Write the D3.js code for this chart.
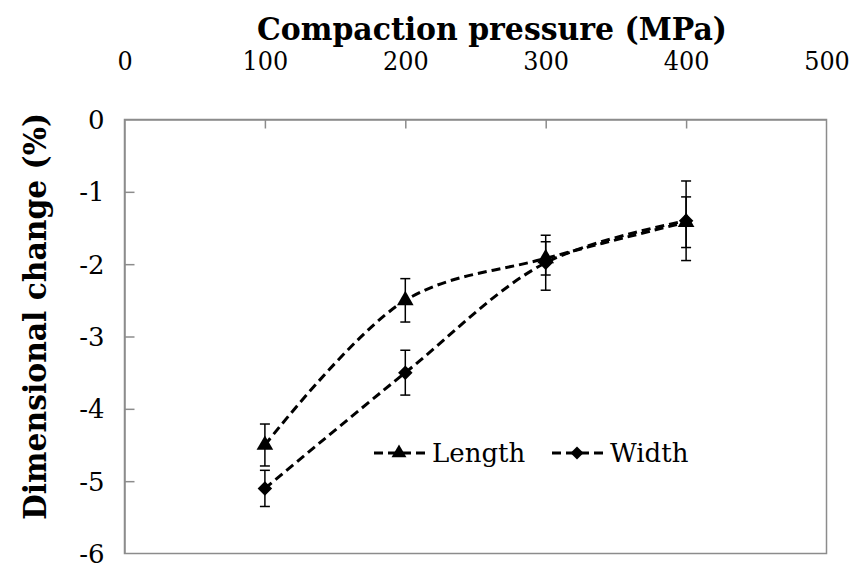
<!DOCTYPE html>
<html><head><meta charset="utf-8">
<script src="https://cdn.jsdelivr.net/npm/d3@7"></script>
<style>body{margin:0;background:#fff}svg{display:block}</style>
</head><body>
<script>
const pressures = [100, 200, 300, 400];
const lengthVals = [-4.5, -2.5, -1.92, -1.42];
const lengthErr = [0.29, 0.3, 0.23, 0.35];
const widthVals = [-5.1, -3.5, -1.98, -1.4];
const widthErr = [0.25, 0.31, 0.38, 0.55];
const xTicks = [0, 100, 200, 300, 400, 500];
const yTicks = [0, -1, -2, -3, -4, -5, -6];
const seriesNames = ["Length", "Width"];

const W = 857, H = 569;
const m = {left: 124.5, right: 857 - 826.5, top: 119.5, bottom: 569 - 553.5};
const svg = d3.select("body").append("svg").attr("width", W).attr("height", H);
const x = d3.scaleLinear().domain([0, 500]).range([m.left, W - m.right]);
const y = d3.scaleLinear().domain([0, -6]).range([m.top, H - m.bottom]);
const font = "'DejaVu Serif', 'Liberation Serif', serif";

// frame
svg.append("rect").attr("x", x(0)).attr("y", y(0)).attr("width", x(500) - x(0)).attr("height", y(-6) - y(0))
  .attr("fill", "none").attr("stroke", "#8c8c8c").attr("stroke-width", 1.5);

// top axis
const xAxis = d3.axisTop(x).tickValues(xTicks).tickSizeInner(-9).tickSizeOuter(0).tickPadding(9);
const gx = svg.append("g").attr("transform", `translate(0,${y(0)})`).call(xAxis);
gx.select(".domain").attr("stroke", "#8c8c8c").attr("stroke-width", 1.5);
gx.selectAll(".tick line").attr("stroke", "#8c8c8c").attr("stroke-width", 1.5);
gx.selectAll(".tick").filter(d => d === 0 || d === 500).select("line").remove();
gx.selectAll(".tick text").attr("font-family", font).attr("font-size", 26).attr("fill", "#000")
  .attr("dy", 0).attr("y", 70 - y(0)).attr("textLength", function() { return this.getComputedTextLength() * 0.92; })
  .attr("lengthAdjust", "spacingAndGlyphs");

// left axis
const yAxis = d3.axisLeft(y).tickValues(yTicks).tickSizeInner(-10).tickSizeOuter(0).tickPadding(20).tickFormat(d => String(d));
const gy = svg.append("g").attr("transform", `translate(${x(0)},0)`).call(yAxis);
gy.select(".domain").attr("stroke", "#8c8c8c").attr("stroke-width", 1.5);
gy.selectAll(".tick line").attr("stroke", "#8c8c8c").attr("stroke-width", 1.5);
gy.selectAll(".tick").filter(d => d === 0 || d === -6).select("line").remove();
gy.selectAll(".tick text").attr("font-family", font).attr("font-size", 26).attr("fill", "#000").attr("x", -20).attr("dy", "0.35em");

// titles
svg.append("text").attr("x", (257 + 727) / 2).attr("y", 40).attr("text-anchor", "middle")
  .attr("font-family", font).attr("font-weight", "bold").attr("font-size", 31)
  .attr("textLength", 470).attr("lengthAdjust", "spacingAndGlyphs").text("Compaction pressure (MPa)");
svg.append("text").attr("transform", `translate(46,${(113 + 520) / 2}) rotate(-90)`).attr("text-anchor", "middle")
  .attr("font-family", font).attr("font-weight", "bold").attr("font-size", 31)
  .attr("textLength", 407).attr("lengthAdjust", "spacingAndGlyphs").text("Dimensional change (%)");

const series = [
  {name: seriesNames[0], vals: lengthVals, err: lengthErr, sym: d3.symbolTriangle, size: 120, rot: 0},
  {name: seriesNames[1], vals: widthVals, err: widthErr, sym: d3.symbolSquare, size: 105, rot: 45}
];
const line = d3.line().x(d => x(d[0])).y(d => y(d[1])).curve(d3.curveCatmullRom.alpha(0.5));

series.forEach(s => {
  const pts = pressures.map((p, i) => [p, s.vals[i], s.err[i]]);
  const eb = svg.append("g").attr("stroke", "#000").attr("stroke-width", 1.5);
  pts.forEach(d => {
    eb.append("line").attr("x1", x(d[0])).attr("x2", x(d[0])).attr("y1", y(d[1] + d[2])).attr("y2", y(d[1] - d[2]));
    [d[1] + d[2], d[1] - d[2]].forEach(v => eb.append("line").attr("x1", x(d[0]) - 5).attr("x2", x(d[0]) + 5).attr("y1", y(v)).attr("y2", y(v)));
  });
  svg.append("path").datum(pts).attr("d", line).attr("fill", "none").attr("stroke", "#000")
    .attr("stroke-width", 3).attr("stroke-dasharray", "9,5");
  svg.append("g").selectAll("path").data(pts).join("path")
    .attr("transform", d => `translate(${x(d[0])},${y(d[1])}) rotate(${s.rot})`)
    .attr("d", d3.symbol().type(s.sym).size(s.size)).attr("fill", "#000");
});

// legend
const legX = [373, 551];
series.forEach((s, i) => {
  const g = svg.append("g").attr("transform", `translate(${legX[i]},453)`);
  g.append("line").attr("x1", 0).attr("x2", 52).attr("y1", 0).attr("y2", 0).attr("stroke", "#000")
    .attr("stroke-width", 3).attr("stroke-dasharray", "9,5").attr("stroke-dashoffset", -1);
  g.append("path").attr("transform", `translate(26,0) rotate(${s.rot})`).attr("d", d3.symbol().type(s.sym).size(s.size * 0.8)).attr("fill", "#000");
  g.append("text").attr("x", 59).attr("y", 9).attr("font-family", font).attr("font-size", 26).text(s.name);
});
</script>
</body></html>
